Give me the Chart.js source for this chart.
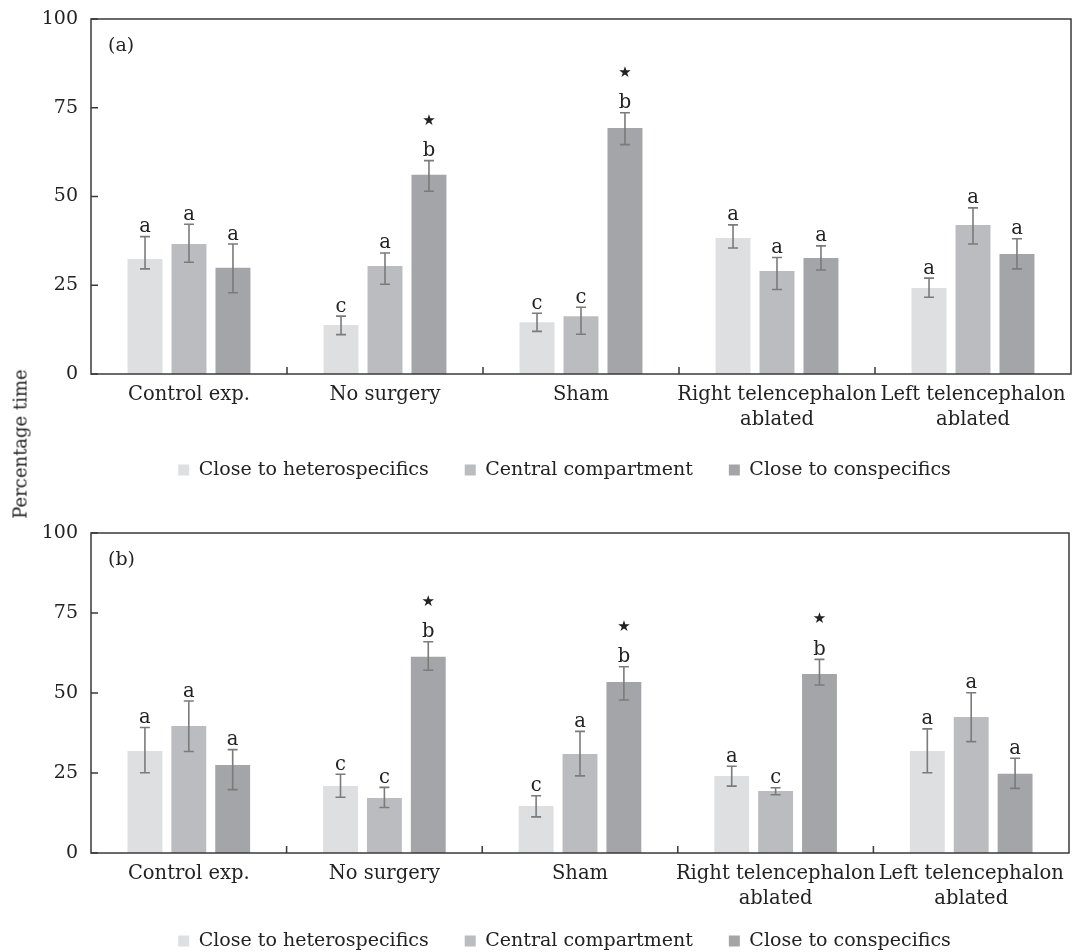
<!DOCTYPE html>
<html><head><meta charset="utf-8">
<script src="https://cdn.jsdelivr.net/npm/chart.js@4"></script>
<style>
html,body{margin:0;padding:0;background:#fff;overflow:hidden;width:1072px;height:952px;}
#wa{position:absolute;left:0;top:0;width:1072px;height:488px;}
#wb{position:absolute;left:0;top:488px;width:1072px;height:464px;}
#yt{position:absolute;left:19.5px;top:444px;transform:translate(-50%,-50%) rotate(-90deg);font:18px "DejaVu Serif";color:#222;white-space:nowrap;}
</style></head><body>
<div id="wa"><canvas id="ca"></canvas></div>
<div id="wb"><canvas id="cb"></canvas></div>
<div id="yt">Percentage time</div>
<script>
// ---- data ----
const categories = ["Control exp.", "No surgery", "Sham", ["Right telencephalon", "ablated"], ["Left telencephalon", "ablated"]];
const seriesNames = ["Close to heterospecifics", "Central compartment", "Close to conspecifics"];
const seriesColors = ["#dedfe1", "#bbbcbf", "#a4a5a8"];
const yTicks = [0, 25, 50, 75, 100];

// Panel (a)
const aHetero = [32.4, 13.8, 14.6, 38.3, 24.2];
const aHeteroHi = [38.7, 16.3, 17.1, 42.0, 27.0];
const aHeteroLo = [29.6, 11.1, 12.0, 35.5, 21.6];
const aHeteroLetters = ["a", "c", "c", "a", "a"];
const aCentral = [36.6, 30.4, 16.3, 29.0, 42.0];
const aCentralHi = [42.2, 34.1, 18.8, 32.8, 46.8];
const aCentralLo = [31.5, 25.3, 11.2, 23.8, 36.6];
const aCentralLetters = ["a", "a", "c", "a", "a"];
const aConspec = [29.9, 56.1, 69.3, 32.7, 33.8];
const aConspecHi = [36.6, 60.1, 73.6, 36.1, 38.1];
const aConspecLo = [22.9, 51.5, 64.6, 29.3, 29.6];
const aConspecLetters = ["a", "b", "b", "a", "a"];
const aStars = [false, true, true, false, false];

// Panel (b)
const bHetero = [31.9, 20.9, 14.7, 24.1, 31.9];
const bHeteroHi = [39.2, 24.6, 17.9, 27.1, 38.8];
const bHeteroLo = [25.1, 17.4, 11.3, 20.9, 25.1];
const bHeteroLetters = ["a", "c", "c", "a", "a"];
const bCentral = [39.7, 17.2, 30.9, 19.4, 42.5];
const bCentralHi = [47.5, 20.5, 38.0, 20.4, 50.1];
const bCentralLo = [31.7, 14.2, 24.1, 18.2, 34.8];
const bCentralLetters = ["a", "c", "a", "c", "a"];
const bConspec = [27.5, 61.3, 53.4, 55.9, 24.8];
const bConspecHi = [32.3, 66.0, 58.2, 60.5, 29.6];
const bConspecLo = [19.8, 57.1, 47.8, 52.5, 20.2];
const bConspecLetters = ["a", "b", "b", "b", "a"];
const bStars = [false, true, true, true, false];

// ---- drawing ----
const SERIF = '"DejaVu Serif", serif';
const TXT = '#222';
const LEG_PAD = 36;
const LEG_FONT = 19;

const deco = {
  id: 'deco',
  afterLayout(chart) {
    const p = chart.options.plugins.deco;
    const l = chart.legend;
    if (!l) return;
    const dx = p.legendCx - (l.left + l.right) / 2;
    l.left += dx; l.right += dx;
    // place legend box so that its item row is centred at legendCy
    l.top = p.legendCy - LEG_PAD - LEG_FONT / 2;
    l.bottom = l.top + LEG_PAD + LEG_FONT + 6;
    l.height = l.bottom - l.top;
  },
  afterDatasetsDraw(chart) {
    const p = chart.options.plugins.deco;
    const {ctx, chartArea: a, scales: {x, y}} = chart;
    ctx.save();
    // error bars + letters
    p.hi.forEach((hiArr, s) => {
      const meta = chart.getDatasetMeta(s);
      meta.data.forEach((bar, j) => {
        const cx = bar.x;
        const yh = y.getPixelForValue(hiArr[j]);
        const yl = y.getPixelForValue(p.lo[s][j]);
        ctx.strokeStyle = '#7b7b7b';
        ctx.lineWidth = 1.6;
        ctx.beginPath();
        ctx.moveTo(cx, yh); ctx.lineTo(cx, yl);
        ctx.moveTo(cx - 5, yh); ctx.lineTo(cx + 5, yh);
        ctx.moveTo(cx - 5, yl); ctx.lineTo(cx + 5, yl);
        ctx.stroke();
        ctx.fillStyle = TXT;
        ctx.textAlign = 'center';
        ctx.textBaseline = 'alphabetic';
        ctx.font = '19.5px ' + SERIF;
        ctx.fillText(p.letters[s][j], cx, yh - 4.5);
        if (s === p.hi.length - 1 && p.stars[j]) {
          ctx.font = '15px "DejaVu Sans"';
          ctx.textBaseline = 'middle';
          ctx.fillText('\u2605', cx, yh - 40);
        }
      });
    });
    // frame
    ctx.strokeStyle = '#3a3a3a';
    ctx.lineWidth = 1.5;
    ctx.strokeRect(a.left, a.top, a.right - a.left, a.bottom - a.top);
    ctx.beginPath();
    yTicks.forEach(v => {
      const py = y.getPixelForValue(v);
      ctx.moveTo(a.left, py); ctx.lineTo(a.left + 7, py);
    });
    for (let i = 0; i < categories.length - 1; i++) {
      const px = (x.getPixelForValue(i) + x.getPixelForValue(i + 1)) / 2;
      ctx.moveTo(px, a.bottom); ctx.lineTo(px, a.bottom - 7);
    }
    ctx.stroke();
    // panel label
    ctx.fillStyle = TXT;
    ctx.font = '19px ' + SERIF;
    ctx.textAlign = 'left';
    ctx.textBaseline = 'middle';
    ctx.fillText(p.panel, a.left + 17, a.top + 27);
    ctx.restore();
  }
};

function makeChart(id, vals, his, los, letters, stars, panel, pad, legendCy) {
  return new Chart(document.getElementById(id), {
    type: 'bar',
    data: {
      labels: categories,
      datasets: vals.map((v, i) => ({
        label: seriesNames[i],
        data: v,
        backgroundColor: seriesColors[i],
        borderWidth: 0,
        categoryPercentage: 0.673,
        barPercentage: 0.795
      }))
    },
    options: {
      responsive: true,
      maintainAspectRatio: false,
      animation: false,
      devicePixelRatio: 1,
      layout: {padding: pad},
      scales: {
        x: {
          offset: true,
          grid: {display: false},
          border: {display: false},
          ticks: {
            font: {family: SERIF, size: 19.5, lineHeight: 1.28},
            color: TXT, maxRotation: 0, minRotation: 0, autoSkip: false, padding: 0
          },
          afterFit(s) { s.height = 58; }
        },
        y: {
          min: 0, max: 100,
          grid: {display: false},
          border: {display: false},
          ticks: {font: {family: SERIF, size: 19}, color: TXT, padding: 5},
          afterBuildTicks(s) { s.ticks = yTicks.map(v => ({value: v})); },
          afterFit(s) { s.width = 91; }
        }
      },
      plugins: {
        legend: {
          position: 'bottom',
          maxHeight: 30,
          labels: {
            boxWidth: 11, boxHeight: 11, padding: LEG_PAD,
            font: {family: SERIF, size: LEG_FONT}, color: TXT
          }
        },
        tooltip: {enabled: false},
        deco: {hi: his, lo: los, letters: letters, stars: stars, panel: panel,
               legendCx: 564.5, legendCy: legendCy}
      }
    },
    plugins: [deco]
  });
}

makeChart('ca',
  [aHetero, aCentral, aConspec],
  [aHeteroHi, aCentralHi, aConspecHi],
  [aHeteroLo, aCentralLo, aConspecLo],
  [aHeteroLetters, aCentralLetters, aConspecLetters],
  aStars, '(a)',
  {left: 0, right: 1, top: 19, bottom: 26}, 470);

makeChart('cb',
  [bHetero, bCentral, bConspec],
  [bHeteroHi, bCentralHi, bConspecHi],
  [bHeteroLo, bCentralLo, bConspecLo],
  [bHeteroLetters, bCentralLetters, bConspecLetters],
  bStars, '(b)',
  {left: 0, right: 3, top: 45, bottom: 11}, 453);
</script>
</body></html>
